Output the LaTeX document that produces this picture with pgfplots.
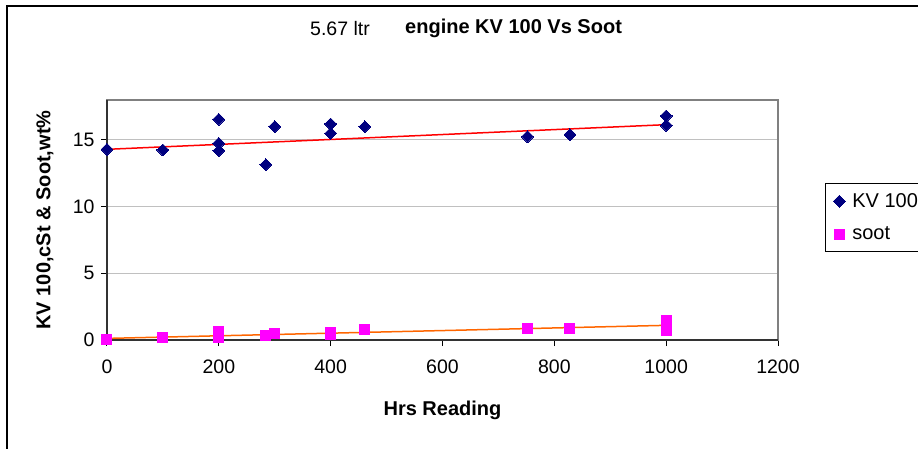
\documentclass[border=0pt]{standalone}
\usepackage{fontspec}
\setmainfont{Liberation Sans}
\usepackage{pgfplots}
\usepackage{pgfplotstable}
\pgfplotsset{compat=1.18}

\definecolor{kvblue}{RGB}{0,0,128}
\definecolor{sootpink}{RGB}{255,0,255}
\definecolor{trendred}{RGB}{255,0,0}
\definecolor{trendorange}{RGB}{255,102,0}
\definecolor{gridgray}{RGB}{192,192,192}
\definecolor{boxgray}{RGB}{128,128,128}

% KV 100 readings (cSt) against hours
\pgfplotstableread{
hrs kv
0 14.3
100 14.25
200 16.55
200 14.75
200 14.2
284 13.15
300 16.0
400 16.2
400 15.5
461 16.0
752 15.25
828 15.4
1000 16.8
1000 16.1
}\kvdata

% soot, wt%
\pgfplotstableread{
hrs soot
0 0.05
100 0.2
200 0.62
200 0.17
284 0.33
300 0.5
400 0.6
400 0.45
461 0.8
752 0.9
828 0.9
1000 1.5
1000 0.7
}\sootdata

\begin{document}
\begin{tikzpicture}
\useasboundingbox (-107bp,-109bp) rectangle (811bp,340bp);
\draw[line width=2bp] (-100bp,-120bp) -- (-100bp,334bp) -- (820bp,334bp);

\begin{axis}[
    scale only axis,
    width=671bp, height=240bp,
    xmin=0, xmax=1200, ymin=0, ymax=18,
    xtick={0,200,...,1200}, ytick={0,5,10,15},
    ymajorgrids,
    grid style={gridgray, line width=1bp},
    axis line style={boxgray, line width=1.5bp},
    tick pos=left, tick align=outside,
    major tick length=6bp,
    tick style={black, line width=1bp},
    /pgf/number format/assume math mode=true,
    /pgf/number format/1000 sep={},
    tick label style={font=\fontsize{19.5bp}{23bp}\selectfont},
    xticklabel style={yshift=-10bp},
    yticklabel style={xshift=-3bp},
    label style={font=\fontsize{20bp}{24bp}\selectfont\bfseries},
    xlabel={Hrs Reading},
    ylabel={KV 100,cSt \& Soot,wt\%},
    x label style={at={(axis description cs:0.5,-0.2917)}, anchor=center},
    y label style={at={(axis description cs:-0.0924,0.5)}, anchor=center, rotate=0},
    clip=false,
    legend style={
        at={(1.070,0.654)}, anchor=north west,
        draw=black, line width=1bp,
        font=\fontsize{20bp}{24bp}\selectfont,
        row sep=14bp, column sep=5bp, inner sep=8bp,
    },
    legend cell align=left,
]
\draw[black!80, line width=1.5bp] (rel axis cs:0,1) -- (rel axis cs:0,0) -- (rel axis cs:1,0);

\addplot[only marks, mark=square*, mark size=4.2bp,
    mark options={rotate=45, fill=kvblue, draw=kvblue, line width=0pt}]
    table[x=hrs, y=kv] {\kvdata};
\addlegendentry{KV 100}

\addplot[only marks, mark=square*, mark size=5bp,
    mark options={fill=sootpink, draw=sootpink, line width=0pt}]
    table[x=hrs, y=soot] {\sootdata};
\addlegendentry{soot}

\addplot[trendred, line width=1.5bp, forget plot] coordinates {(0,14.3) (1000,16.15)};
\addplot[trendorange, line width=1.5bp, forget plot] coordinates {(0,0.12) (1000,1.1)};
\end{axis}

\node[anchor=base west, inner sep=0pt, font=\fontsize{19.5bp}{23bp}\selectfont] at (203bp,304bp) {5.67 ltr};
\node[anchor=base west, inner sep=0pt, font=\fontsize{20bp}{24bp}\selectfont\bfseries] at (298bp,306bp) {engine KV 100 Vs Soot};
\end{tikzpicture}
\end{document}
